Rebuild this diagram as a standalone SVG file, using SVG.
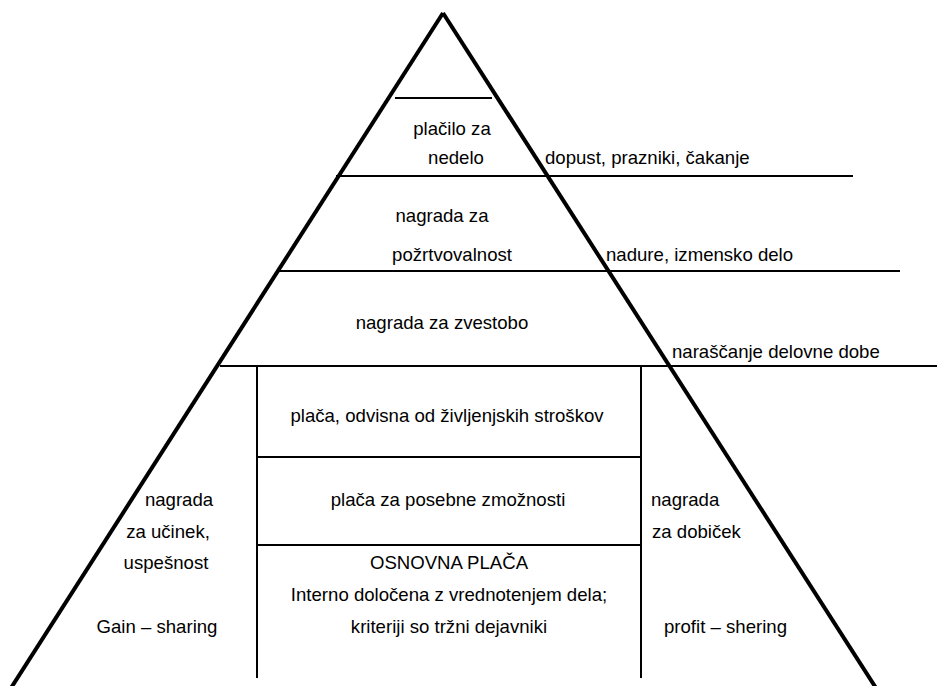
<svg xmlns="http://www.w3.org/2000/svg" width="937" height="686" viewBox="0 0 937 686">
<style>
.t{font-family:"Liberation Sans",Arial,sans-serif;font-size:18.6px;fill:#000}
.m{text-anchor:middle}
.side{stroke:#000;stroke-width:4;fill:none}
.ln{stroke:#000;stroke-width:2;fill:none}
</style>
<rect width="937" height="686" fill="#fff"/>
<g id="connectors">
<line class="side" x1="443" y1="13" x2="11" y2="688"/>
<line class="side" x1="443" y1="13" x2="876" y2="688"/>
<line class="ln" x1="395" y1="98" x2="492" y2="98"/>
<line class="ln" x1="336" y1="176" x2="853" y2="176"/>
<line class="ln" x1="276" y1="271" x2="900" y2="271"/>
<line class="ln" x1="220" y1="366" x2="937" y2="366"/>
<line class="ln" x1="257" y1="366" x2="257" y2="678"/>
<line class="ln" x1="641" y1="366" x2="641" y2="678"/>
<line class="ln" x1="257" y1="457" x2="641" y2="457"/>
<line class="ln" x1="257" y1="545" x2="641" y2="545"/>
</g>
<g id="placilo"><text class="t m" x="452" y="135">plačilo za</text><text class="t m" x="456" y="164">nedelo</text></g>
<g id="dopust"><text class="t" x="545" y="164">dopust, prazniki, čakanje</text></g>
<g id="portvovalnost"><text class="t m" x="442" y="222">nagrada za</text><text class="t m" x="452" y="261">požrtvovalnost</text></g>
<g id="nadure"><text class="t" x="606" y="261">nadure, izmensko delo</text></g>
<g id="zvestoba"><text class="t m" x="442" y="329">nagrada za zvestobo</text></g>
<g id="naraščanje"><text class="t" x="672" y="358">naraščanje delovne dobe</text></g>
<g id="zivljenjski"><text class="t m" x="447" y="422">plača, odvisna od življenjskih stroškov</text></g>
<g id="posebne"><text class="t m" x="448" y="506">plača za posebne zmožnosti</text></g>
<g id="osnovna"><text class="t m" x="449" y="569">OSNOVNA PLAČA</text><text class="t m" x="449" y="601">Interno določena z vrednotenjem dela;</text><text class="t m" x="449" y="633">kriteriji so tržni dejavniki</text></g>
<g id="ucinek"><text class="t m" x="179" y="506">nagrada</text><text class="t m" x="168" y="538">za učinek,</text><text class="t m" x="166" y="569">uspešnost</text><text class="t m" x="157" y="633">Gain – sharing</text></g>
<g id="dobicek"><text class="t" x="651" y="506">nagrada</text><text class="t" x="652" y="538">za dobiček</text><text class="t" x="664" y="633">profit – shering</text></g>
</svg>
